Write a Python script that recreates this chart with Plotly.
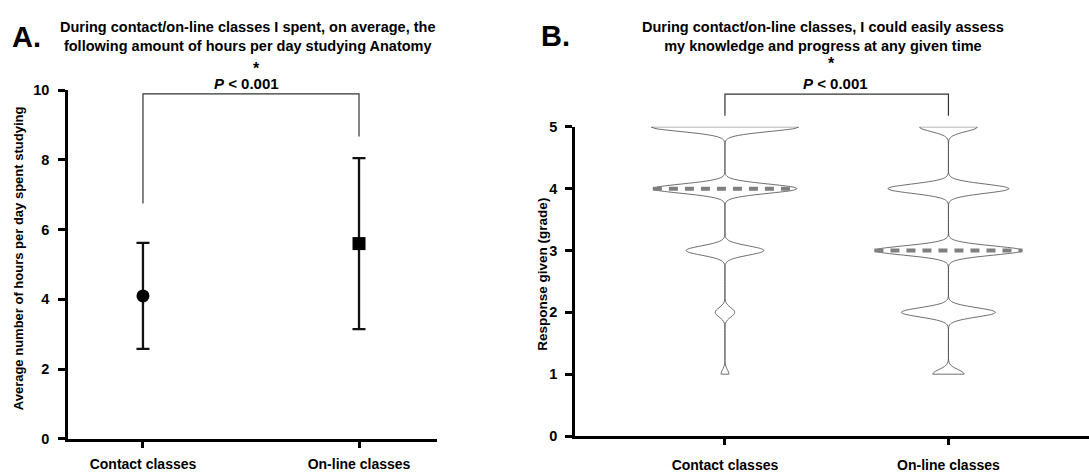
import numpy as np
import plotly.graph_objects as go

W, H = 1089, 473
FONT = "Liberation Sans"

# ---------------- data ----------------
categories = ["Contact classes", "On-line classes"]

# Panel A: mean +/- SD hours per day
hours_mean = [4.1, 5.6]
hours_sd = [1.52, 2.45]
hours_symbols = ["circle", "square"]

# Panel B: counts of responses per grade (1..5)
grades = [1, 2, 3, 4, 5]
contact_counts = [2, 5, 20, 37, 38]
online_counts = [7, 21, 33, 27, 13]

title_a = "During contact/on-line classes I spent, on average, the<br>following amount of hours per day studying Anatomy"
title_b = "During contact/on-line classes, I could easily assess<br>my knowledge and progress at any given time"
ytitle_a = "Average number of hours per day spent studying"
ytitle_b = "Response given (grade)"
p_text = "<i>P</i> < 0.001"

# ---------------- layout geometry ----------------
xdomA = [68 / W, 437 / W]
ydomA = [1 - 446 / H, 1 - 85 / H]
xrA = [-0.347, 1.361]
yrA = [0, 10]

xdomB = [575 / W, 1.0]
ydomB = [1 - 443 / H, 1 - 123 / H]
xrB = [-0.671, 1.629]
yrB = [0, 5]

VW = 0.662      # violin width (data units)
BW = 0.0751     # KDE bandwidth

fig = go.Figure()

# Panel A: mean +/- SD
for i, cat in enumerate(categories):
    fig.add_trace(go.Scatter(
        x=[i], y=[hours_mean[i]], mode="markers",
        marker=dict(symbol=hours_symbols[i], size=13, color="black"),
        error_y=dict(type="data", array=[hours_sd[i]], visible=True,
                     color="#111", thickness=2.3, width=6.5),
        xaxis="x", yaxis="y", showlegend=False, cliponaxis=False))

# Panel B: violins
def expand(counts):
    vals = []
    for g, c in zip(grades, counts):
        vals += [g] * c
    return np.array(vals, dtype=float)

for i, counts in enumerate([contact_counts, online_counts]):
    vals = expand(counts)
    fig.add_trace(go.Violin(
        x0=i, y=vals, width=VW, scalemode="width", bandwidth=BW,
        spanmode="hard", points=False, fillcolor="white",
        line=dict(color="#4a4a4a", width=0.8),
        box=dict(visible=False), meanline=dict(visible=False),
        xaxis="x2", yaxis="y2", showlegend=False, hoverinfo="skip"))
    # median line spanning violin width at the median
    med = float(np.median(vals))
    grid = np.linspace(vals.min(), vals.max(), 161)
    def dens(t):
        return np.exp(-0.5 * ((t - vals[:, None]) / BW) ** 2).sum(axis=0)
    d = dens(grid)
    half = VW / 2 * dens(np.array([med]))[0] / d.max()
    fig.add_trace(go.Scatter(
        x=[i - half, i + half], y=[med, med], mode="lines",
        line=dict(color="#7f7f7f", width=4, dash="9px,7px"),
        xaxis="x2", yaxis="y2", showlegend=False, hoverinfo="skip"))

axis_common = dict(showline=True, linecolor="black", linewidth=2.5,
                   ticks="outside", tickcolor="black", tickwidth=2.5,
                   showgrid=False, zeroline=False)
xtickfont = dict(family=FONT, size=14, color="black", weight="bold")
ytickfont = dict(family=FONT, size=14.5, color="black", weight="bold")

fig.update_layout(
    width=W, height=H, margin=dict(l=0, r=0, t=0, b=0),
    paper_bgcolor="white", plot_bgcolor="white",
    font=dict(family=FONT, color="black"),
    xaxis=dict(domain=xdomA, range=xrA, anchor="y", tickvals=[0, 1],
               ticktext=categories, ticklen=6, ticklabelstandoff=5,
               tickfont=xtickfont, **axis_common),
    yaxis=dict(domain=ydomA, range=yrA, anchor="x", tickvals=[0, 2, 4, 6, 8, 10],
               ticklen=7, ticklabelstandoff=6, tickfont=ytickfont, **axis_common),
    xaxis2=dict(domain=xdomB, range=xrB, anchor="y2", tickvals=[0, 1],
                ticktext=categories, ticklen=6, ticklabelstandoff=8,
                tickfont=xtickfont, **axis_common),
    yaxis2=dict(domain=ydomB, range=yrB, anchor="x2", tickvals=[0, 1, 2, 3, 4, 5],
                ticklen=7, ticklabelstandoff=5, tickfont=ytickfont, **axis_common),
)

# significance brackets (domain-referenced so they may sit above the axis range)
def dx(x, r):
    return (x - r[0]) / (r[1] - r[0])

def dy(y, r):
    return (y - r[0]) / (r[1] - r[0])

def bracket(xa, ya, xr, yr, top, left_low, right_low):
    pts = [(0, left_low), (0, top), (1, top), (1, right_low)]
    path = "M " + " L ".join(f"{dx(x, xr):.5f},{dy(y, yr):.5f}" for x, y in pts)
    fig.add_shape(type="path", path=path, xref=f"{xa} domain", yref=f"{ya} domain",
                  line=dict(color="#333", width=1.2))

bracket("x", "y", xrA, yrA, 9.89, 6.75, 8.67)
bracket("x2", "y2", xrB, yrB, 5.53, 5.18, 5.18)

def ann(text, px, py, size, angle=0, xanchor="center", weight="bold"):
    fig.add_annotation(text=text, x=px / W, y=1 - py / H, xref="paper", yref="paper",
                       showarrow=False, textangle=angle, xanchor=xanchor, yanchor="middle",
                       font=dict(family=FONT, size=size, color="black", weight=weight))

# panel letters and titles
ann("A.", 10, 30, 29, xanchor="left")
ann("B.", 539, 29, 29, xanchor="left")
ann(title_a, 248, 30, 14.5)
ann(title_b, 823, 29, 14.5)
# axis titles
ann(ytitle_a, 18, 259, 13, angle=-90)
ann(ytitle_b, 543, 276, 13.5, angle=-90)
# significance text
ann("*", 256, 63, 16)
ann(p_text, 246, 78, 15)
ann("*", 831, 57, 16)
ann(p_text, 835, 78, 15)

fig.write_html("out.html")
